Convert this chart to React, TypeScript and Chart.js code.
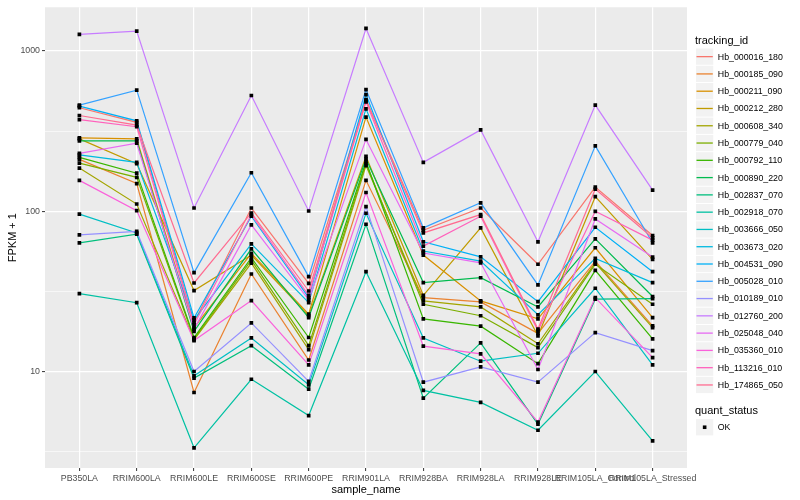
import React, { useEffect, useRef } from 'react';
import { Chart, registerables } from 'chart.js';

Chart.register(...registerables);

// ---- data ----
const categories = [
  'PB350LA', 'RRIM600LA', 'RRIM600LE', 'RRIM600SE', 'RRIM600PE', 'RRIM901LA',
  'RRIM928BA', 'RRIM928LA', 'RRIM928LE', 'RRIM105LA_Control', 'RRIM105LA_Stressed',
];

const trackingIds = [
  'Hb_000016_180', 'Hb_000185_090', 'Hb_000211_090', 'Hb_000212_280', 'Hb_000608_340',
  'Hb_000779_040', 'Hb_000792_110', 'Hb_000890_220', 'Hb_002837_070', 'Hb_002918_070',
  'Hb_003666_050', 'Hb_003673_020', 'Hb_004531_090', 'Hb_005028_010', 'Hb_010189_010',
  'Hb_012760_200', 'Hb_025048_040', 'Hb_035360_010', 'Hb_113216_010', 'Hb_174865_050',
];

const seriesColors = [
  '#F8766D', '#EA8331', '#D89000', '#C09B00', '#A3A500', '#7CAE00', '#39B600', '#00BB4E',
  '#00BF7D', '#00C1A3', '#00BFC4', '#00BAE0', '#00B0F6', '#35A2FF', '#9590FF', '#C77CFF',
  '#E76BF3', '#FA62DB', '#FF62BC', '#FF6C91',
];

const hb_000016_180 = [443, 359, 20.2, 104.8, 35.5, 498, 76.2, 104.8, 46.7, 141.5, 70.6];
const hb_000185_090 = [211, 149, 7.4, 40.6, 11.8, 156, 28.9, 27.2, 17.3, 48.9, 19.3];
const hb_000211_090 = [287, 283, 18.8, 54.6, 22.8, 387, 53.3, 27.6, 21.3, 59.2, 21.7];
const hb_000212_280 = [283, 198, 32.0, 53.3, 22.3, 220, 29.9, 78.8, 16.7, 123.4, 50.1];
const hb_000608_340 = [186, 111, 15.8, 47.5, 13.7, 193, 27.6, 25.3, 14.9, 47.7, 18.8];
const hb_000779_040 = [200, 163, 16.0, 49.6, 14.5, 199, 26.3, 22.3, 14.1, 46.7, 26.3];
const hb_000792_110 = [217, 173, 16.3, 51.3, 16.3, 204, 21.3, 19.2, 11.2, 42.8, 16.0];
const hb_000890_220 = [275, 275, 17.8, 58.3, 21.7, 212, 35.9, 38.5, 25.3, 67.3, 29.4];
const hb_002837_070 = [63.6, 71.9, 9.1, 14.5, 7.76, 83, 6.82, 15.1, 4.69, 28.3, 28.5];
const hb_002918_070 = [30.6, 26.9, 3.34, 8.95, 5.31, 42, 7.62, 6.42, 4.3, 10.0, 3.69];
const hb_003666_050 = [96, 73.3, 9.4, 16.2, 8.26, 97.2, 16.2, 11.6, 13.0, 33.1, 11.0];
const hb_003673_020 = [225, 202, 21.0, 62.6, 26.9, 436, 56.5, 48.9, 22.6, 50.8, 35.9];
const hb_004531_090 = [453, 367, 21.6, 93.1, 28.9, 535, 64.5, 52, 27.3, 79.5, 42];
const hb_005028_010 = [460, 570, 41.4, 174, 39.1, 575, 78.8, 113, 34.7, 256, 63.6];
const hb_010189_010 = [71.3, 75, 10.0, 20.1, 8.67, 107, 8.58, 10.7, 8.58, 17.5, 13.5];
const hb_012760_200 = [1270, 1331, 104.8, 528, 100.4, 1384, 202, 322, 64.5, 460, 135.6];
const hb_025048_040 = [230, 266, 18.4, 82.2, 28.0, 281, 54.9, 47.7, 10.3, 89.6, 51.8];
const hb_035360_010 = [156, 101, 15.6, 27.7, 11.0, 131, 14.4, 12.9, 4.84, 28.9, 12.2];
const hb_113216_010 = [373, 337, 19.6, 95.4, 29.9, 482, 60.6, 93.1, 18.0, 100, 66.1];
const hb_174865_050 = [396, 345, 35.7, 97.6, 31.8, 491, 73.3, 95.4, 18.4, 137.6, 68.3];

const seriesValues = [
  hb_000016_180, hb_000185_090, hb_000211_090, hb_000212_280, hb_000608_340,
  hb_000779_040, hb_000792_110, hb_000890_220, hb_002837_070, hb_002918_070,
  hb_003666_050, hb_003673_020, hb_004531_090, hb_005028_010, hb_010189_010,
  hb_012760_200, hb_025048_040, hb_035360_010, hb_113216_010, hb_174865_050,
];

const yTickLabels = [10, 100, 1000];
const quantStatus = ['OK'];

// ---- styling ----
const FONT = '"Liberation Sans", Arial, Helvetica, sans-serif';
const PANEL_BG = '#EBEBEB';

const panelBackground = {
  id: 'panelBackground',
  beforeDraw(chart: any) {
    const { ctx, chartArea } = chart;
    if (!chartArea) return;
    ctx.save();
    ctx.fillStyle = PANEL_BG;
    ctx.fillRect(chartArea.left, chartArea.top, chartArea.right - chartArea.left, chartArea.bottom - chartArea.top);
    ctx.restore();
  },
};

const ggLegend = {
  id: 'ggLegend',
  afterDraw(chart: any) {
    const { ctx, chartArea } = chart;
    const x0 = chartArea.right + 9;
    const keySize = 17.28;
    const textX = x0 + keySize + 4.5;
    ctx.save();
    ctx.textBaseline = 'middle';
    ctx.textAlign = 'left';
    ctx.fillStyle = '#000';
    ctx.font = `11px ${FONT}`;
    const titleY = 40.5;
    ctx.fillText('tracking_id', x0 - 1, titleY);
    let y = titleY + 7.5;
    ctx.font = `8.8px ${FONT}`;
    trackingIds.forEach((name, i) => {
      ctx.fillStyle = '#F2F2F2';
      ctx.fillRect(x0, y + 0.5, keySize, keySize - 1);
      ctx.strokeStyle = seriesColors[i];
      ctx.lineWidth = 1.3;
      ctx.beginPath();
      ctx.moveTo(x0 + 0.5, y + keySize / 2);
      ctx.lineTo(x0 + keySize - 0.5, y + keySize / 2);
      ctx.stroke();
      ctx.fillStyle = '#000';
      ctx.fillText(name, textX, y + keySize / 2 + 0.5);
      y += keySize;
    });
    // second legend
    ctx.font = `11px ${FONT}`;
    const qTitleY = y + 17.5;
    ctx.fillText('quant_status', x0 - 1, qTitleY);
    let qy = qTitleY + 7.5;
    ctx.font = `8.8px ${FONT}`;
    quantStatus.forEach((s) => {
      ctx.fillStyle = '#F2F2F2';
      ctx.fillRect(x0, qy + 0.5, keySize, keySize - 1);
      ctx.fillStyle = '#000';
      ctx.fillRect(x0 + keySize / 2 - 1.8, qy + keySize / 2 - 1.8, 3.6, 3.6);
      ctx.fillText(s, textX, qy + keySize / 2 + 0.5);
      qy += keySize;
    });
    ctx.restore();
  },
};

const isMajorY = (v: number) => yTickLabels.some((t) => Math.abs(t - v) / t < 1e-6);

export default function App() {
  const canvasRef = useRef<HTMLCanvasElement | null>(null);

  useEffect(() => {
    if (!canvasRef.current) return;
    const n = seriesValues.length;
    const lineSets = seriesValues.map((vals, i) => ({
      label: trackingIds[i],
      data: vals.map((v, j) => ({ x: j, y: v })),
      borderColor: seriesColors[i],
      backgroundColor: seriesColors[i],
      borderWidth: 1.2,
      pointRadius: 0,
      tension: 0,
      fill: false,
      order: n - i,
    }));
    const pointSet = {
      label: 'points',
      data: seriesValues.flatMap((vals) => vals.map((v, j) => ({ x: j, y: v }))),
      showLine: false,
      pointStyle: 'rect',
      pointRadius: 2.6,
      pointBorderWidth: 0,
      pointBackgroundColor: '#000000',
      borderColor: '#000000',
      order: -1,
    };

    const chart = new Chart(canvasRef.current, {
      type: 'line',
      data: { datasets: [...lineSets, pointSet] as any },
      options: {
        responsive: false,
        animation: false,
        events: [],
        layout: { padding: { top: 5, right: 113, bottom: 0, left: 0 } },
        plugins: {
          legend: { display: false },
          tooltip: { enabled: false },
        },
        scales: {
          x: {
            type: 'linear',
            min: -0.6,
            max: categories.length - 1 + 0.6,
            afterBuildTicks: (scale: any) => {
              scale.ticks = categories.map((_, i) => ({ value: i }));
            },
            afterFit: (scale: any) => {
              scale.height = 32;
            },
            border: { display: false },
            grid: {
              color: '#FFFFFF',
              lineWidth: 1.2,
              drawTicks: true,
              tickLength: 3,
              tickColor: '#333333',
              tickWidth: 1,
            },
            ticks: {
              autoSkip: false,
              maxRotation: 0,
              minRotation: 0,
              padding: 2,
              color: '#4D4D4D',
              font: { size: 8.8, family: FONT },
              callback: (v: any) => categories[v] ?? '',
            },
            title: {
              display: true,
              text: 'sample_name',
              color: '#000000',
              font: { size: 11, family: FONT },
              padding: { top: 0, bottom: 3.5 },
            },
          },
          y: {
            type: 'logarithmic',
            min: 2.5,
            max: 1876,
            afterBuildTicks: (scale: any) => {
              const vals: number[] = [];
              yTickLabels.forEach((t) => {
                vals.push(t / Math.sqrt(10));
                vals.push(t);
              });
              scale.ticks = vals.map((v) => ({ value: v }));
            },
            afterFit: (scale: any) => {
              scale.width = 45;
            },
            border: { display: false },
            grid: {
              color: '#FFFFFF',
              lineWidth: (c: any) => (c.tick && isMajorY(c.tick.value) ? 1.2 : 0.6),
              drawTicks: true,
              tickLength: 3,
              tickColor: (c: any) => (c.tick && isMajorY(c.tick.value) ? '#333333' : 'rgba(0,0,0,0)'),
              tickWidth: 1,
            },
            ticks: {
              autoSkip: false,
              padding: 2,
              color: '#4D4D4D',
              font: { size: 8.8, family: FONT },
              callback: (v: any) => (isMajorY(Number(v)) ? String(Math.round(Number(v))) : ''),
            },
            title: {
              display: true,
              text: 'FPKM + 1',
              color: '#000000',
              font: { size: 11, family: FONT },
              padding: { top: 6, bottom: 0 },
            },
          },
        },
      } as any,
      plugins: [panelBackground, ggLegend],
    });
    return () => chart.destroy();
  }, []);

  return (
    <div style={{ position: 'absolute', left: 0, top: 0, width: 800, height: 500, background: '#FFFFFF' }}>
      <canvas ref={canvasRef} width={800} height={500} style={{ width: 800, height: 500, display: 'block' }} />
    </div>
  );
}
